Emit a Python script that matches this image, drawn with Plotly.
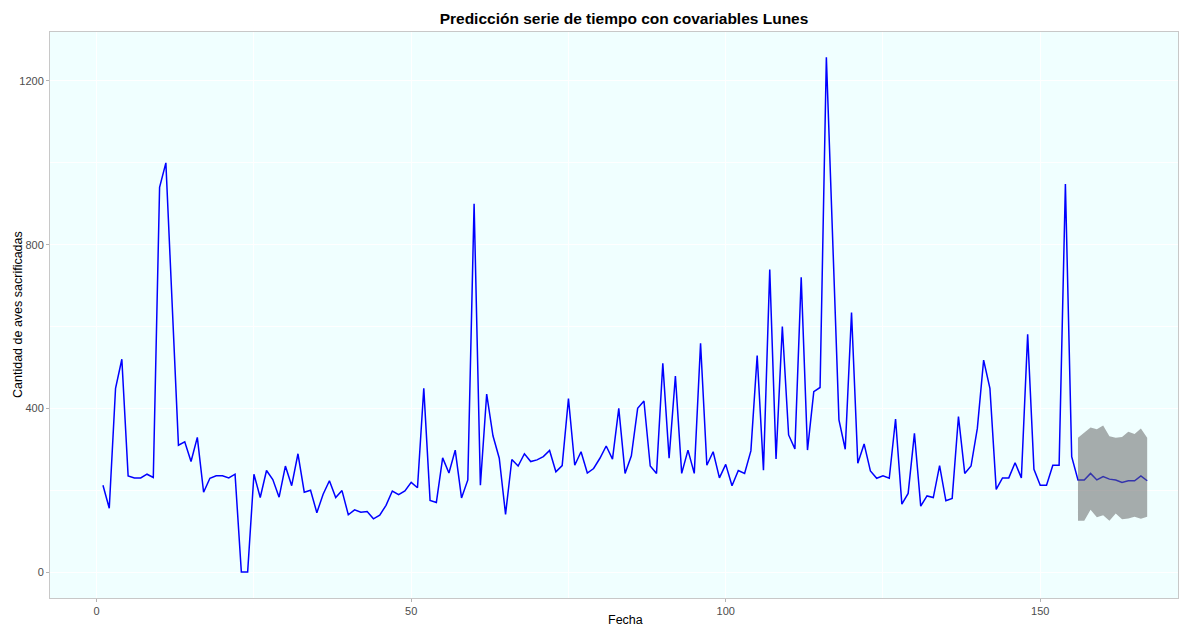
import plotly.graph_objects as go

# Observed series (t = 1..155)
observado = [
    212, 156, 449, 520, 235, 230, 230, 239, 231, 940,
    1000, 655, 310, 318, 270, 329, 195, 229, 235, 235,
    230, 239, 0, 0, 239, 182, 248, 226, 183, 259,
    211, 289, 195, 200, 145, 190, 223, 182, 199, 140,
    152, 146, 148, 130, 139, 163, 198, 189, 198, 219,
    206, 449, 175, 170, 279, 242, 298, 181, 225, 900,
    212, 435, 333, 278, 141, 275, 259, 289, 270, 274,
    282, 297, 245, 260, 424, 261, 294, 242, 253, 278,
    308, 276, 400, 241, 284, 400, 418, 259, 241, 510,
    278, 479, 241, 298, 241, 559, 261, 294, 230, 263,
    211, 248, 241, 296, 529, 249, 739, 276, 600, 335,
    301, 720, 298, 441, 451, 1258, 815, 372, 300, 634,
    266, 313, 247, 229, 235, 229, 374, 166, 192, 339,
    161, 186, 182, 260, 174, 180, 380, 241, 259, 351,
    518, 449, 202, 230, 230, 267, 230, 581, 251, 212,
    212, 261, 261, 948, 282,
]

# Forecast (t = 156..167) with interval
prediccion = [225, 225, 241, 225, 233, 227, 225, 219, 223, 223, 235, 223]
limite_sup = [328, 341, 353, 349, 358, 332, 328, 330, 343, 337, 351, 328]
limite_inf = [125, 125, 152, 134, 139, 125, 143, 129, 131, 135, 130, 135]

fecha_obs = list(range(1, len(observado) + 1))
fecha_pred = list(range(len(observado) + 1, len(observado) + len(prediccion) + 1))

x_ticks = [0, 50, 100, 150]
y_ticks = [0, 400, 800, 1200]

fig = go.Figure()

fig.add_trace(go.Scatter(
    x=fecha_obs + fecha_pred,
    y=observado + prediccion,
    mode="lines",
    line=dict(color="#0000FF", width=1.5),
    showlegend=False,
    hoverinfo="x+y",
))

fig.add_trace(go.Scatter(
    x=fecha_pred + fecha_pred[::-1],
    y=limite_sup + limite_inf[::-1],
    fill="toself",
    fillcolor="rgba(98,98,98,0.53)",
    line=dict(width=0),
    mode="lines",
    showlegend=False,
    hoverinfo="skip",
))

font_family = "Liberation Sans, Arial, sans-serif"

fig.update_layout(
    width=1188,
    height=626,
    margin=dict(l=50, r=10, t=32, b=28),
    paper_bgcolor="white",
    plot_bgcolor="#F0FFFF",
    font=dict(family=font_family, size=11, color="#4D4D4D"),
    title=dict(
        text="<b>Predicción serie de tiempo con covariables Lunes</b>",
        x=624 / 1188, xref="container", xanchor="center",
        y=1 - 19 / 626, yref="container", yanchor="middle",
        font=dict(family=font_family, size=15.5, color="black"),
    ),
    xaxis=dict(
        range=[-7.42, 171.9],
        tickvals=x_ticks,
        ticktext=[str(v) for v in x_ticks],
        showgrid=True, gridcolor="white", gridwidth=1.1,
        minor=dict(dtick=25, tick0=0, showgrid=True, gridcolor="white", gridwidth=0.5),
        zeroline=False,
        showline=True, mirror=True, linecolor="#C8C8C8", linewidth=1,
        ticks="outside", ticklen=3, tickcolor="#B3B3B3",
        tickfont=dict(size=11, color="#4D4D4D"),
        automargin=False,
    ),
    yaxis=dict(
        range=[-63.5, 1319.7],
        tickvals=y_ticks,
        ticktext=[str(v) for v in y_ticks],
        showgrid=True, gridcolor="white", gridwidth=1.1,
        minor=dict(dtick=200, tick0=0, showgrid=True, gridcolor="white", gridwidth=0.5),
        zeroline=False,
        showline=True, mirror=True, linecolor="#C8C8C8", linewidth=1,
        ticks="outside", ticklen=3, tickcolor="#B3B3B3",
        tickfont=dict(size=11, color="#4D4D4D"),
        automargin=False,
    ),
    annotations=[
        dict(
            text="Fecha", showarrow=False,
            xref="paper", yref="paper",
            x=(625 - 50) / (1188 - 60), y=0, yshift=-22,
            xanchor="center", yanchor="middle",
            font=dict(family=font_family, size=12.5, color="black"),
        ),
        dict(
            text="Cantidad de aves sacrificadas", showarrow=False,
            xref="paper", yref="paper",
            x=0, xshift=-32, y=0.5,
            xanchor="center", yanchor="middle", textangle=-90,
            font=dict(family=font_family, size=12.5, color="black"),
        ),
    ],
)

fig.write_html("out.html")
